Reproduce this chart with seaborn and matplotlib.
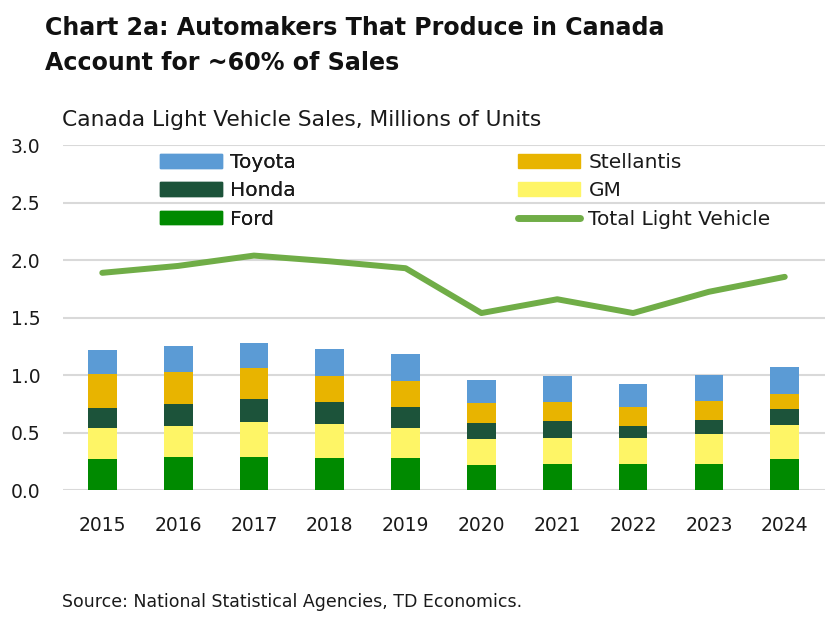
import numpy as np
import pandas as pd
import seaborn as sns
import matplotlib.pyplot as plt
from matplotlib.patches import Patch
from matplotlib.lines import Line2D

years = ['2015', '2016', '2017', '2018', '2019', '2020', '2021', '2022', '2023', '2024']
ford = [0.27, 0.29, 0.29, 0.28, 0.28, 0.22, 0.23, 0.23, 0.23, 0.27]
gm = [0.27, 0.27, 0.30, 0.295, 0.26, 0.225, 0.22, 0.225, 0.26, 0.295]
honda = [0.17, 0.19, 0.20, 0.19, 0.18, 0.14, 0.15, 0.10, 0.12, 0.14]
stellantis = [0.30, 0.28, 0.27, 0.23, 0.225, 0.17, 0.165, 0.165, 0.165, 0.13]
toyota = [0.21, 0.22, 0.22, 0.23, 0.24, 0.20, 0.23, 0.20, 0.23, 0.235]
total = [1.89, 1.95, 2.04, 1.99, 1.93, 1.54, 1.66, 1.54, 1.725, 1.855]

colors = {'Ford': '#008a00', 'GM': '#fef566', 'Honda': '#1c533a',
          'Stellantis': '#e8b400', 'Toyota': '#5b9bd5', 'Total': '#70ad47'}

sns.set_theme(style='white')
plt.rcParams['font.family'] = ['DejaVu Sans']
txt = '#1a1a1a'

df = pd.DataFrame({'year': years, 'Ford': ford, 'GM': gm, 'Honda': honda,
                   'Stellantis': stellantis, 'Toyota': toyota})
makers = ['Ford', 'GM', 'Honda', 'Stellantis', 'Toyota']
cum = df[makers].cumsum(axis=1)

fig = plt.figure(figsize=(8.27, 6.18), dpi=100)
ax = fig.add_axes([0.076, 0.207, 0.9215, 0.558])

for y in [0, 0.5, 1.0, 1.5, 2.0, 2.5, 3.0]:
    ax.axhline(y, color='#d9d9d9', lw=1.5, zorder=0)

# stacked bars: draw cumulative totals from the top down
for m in reversed(makers):
    sns.barplot(x=df['year'], y=cum[m], color=colors[m], width=0.38,
                saturation=1, ax=ax, zorder=2, linewidth=0)

sns.pointplot(x=years, y=total, color=colors['Total'], markers='',
              linestyles='-', lw=4.3, errorbar=None, ax=ax, zorder=3)
for ln in ax.lines:
    ln.set_solid_capstyle('round')

ax.set_xlim(-0.52, 9.53)
ax.set_ylim(0, 3.0)
ax.set_yticks([0, 0.5, 1.0, 1.5, 2.0, 2.5, 3.0])
ax.set_yticklabels(['0.0', '0.5', '1.0', '1.5', '2.0', '2.5', '3.0'])
ax.set_xlabel('')
ax.set_ylabel('')
ax.tick_params(axis='y', length=0, pad=16, labelsize=13.5, labelcolor=txt)
ax.tick_params(axis='x', length=0, pad=19, labelsize=13.5, labelcolor=txt)
sns.despine(ax=ax, left=True, bottom=True)

h1 = [Patch(color=colors['Toyota'], label='Toyota'),
      Patch(color=colors['Honda'], label='Honda'),
      Patch(color=colors['Ford'], label='Ford')]
h2 = [Patch(color=colors['Stellantis'], label='Stellantis'),
      Patch(color=colors['GM'], label='GM'),
      Line2D([], [], color=colors['Total'], lw=5, solid_capstyle='round',
             label='Total Light Vehicle')]
leg_kw = dict(frameon=False, loc='upper left', fontsize=14.5, handlelength=3.1,
              handleheight=0.65, handletextpad=0.4, labelspacing=0.46,
              borderpad=0, borderaxespad=0, labelcolor=txt)
leg1 = fig.legend(handles=h1, bbox_to_anchor=(160 / 827, 1 - 153 / 618), **leg_kw)
fig.legend(handles=h2, bbox_to_anchor=(518 / 827, 1 - 153 / 618), **leg_kw)
fig.add_artist(leg1)

title_kw = dict(family='DejaVu Sans', fontweight='bold', fontsize=17.1,
                va='baseline', color='#111111')
fig.text(45 / 827, 1 - 35 / 618, 'Chart 2a: Automakers That Produce in Canada', **title_kw)
fig.text(45 / 827, 1 - 70 / 618, 'Account for ~60% of Sales', **title_kw)
fig.text(62 / 827, 1 - 126 / 618, 'Canada Light Vehicle Sales, Millions of Units',
         fontsize=15.7, va='baseline', color=txt)
fig.text(62 / 827, 1 - 607 / 618, 'Source: National Statistical Agencies, TD Economics.',
         fontsize=12.5, va='baseline', color=txt)

fig.savefig('out.png', dpi=100)
